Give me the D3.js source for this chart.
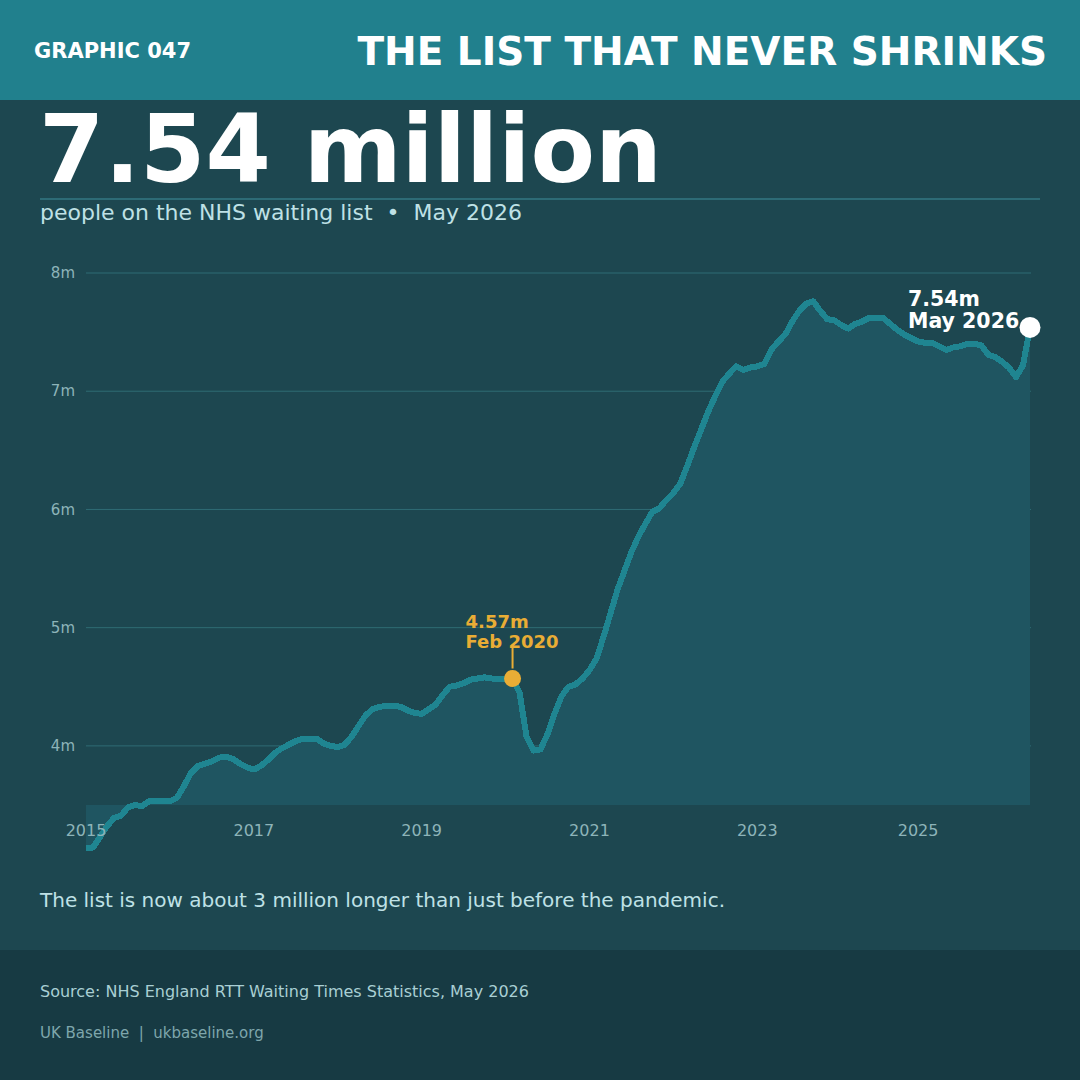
<!DOCTYPE html>
<html>
<head>
<meta charset="utf-8">
<script src="https://cdn.jsdelivr.net/npm/d3@7"></script>
<style>
  html, body { margin: 0; padding: 0; background: #1d4750; }
  svg { display: block; font-family: "DejaVu Sans", sans-serif; }
  svg text { white-space: pre; }
</style>
</head>
<body>
<svg id="chart" width="1080" height="1080"></svg>
<script>
// ---- data (millions of people on the waiting list, monthly) ----
const months = [
  "2015-01","2015-02","2015-03","2015-04","2015-05","2015-06","2015-07","2015-08","2015-09","2015-10","2015-11","2015-12",
  "2016-01","2016-02","2016-03","2016-04","2016-05","2016-06","2016-07","2016-08","2016-09","2016-10","2016-11","2016-12",
  "2017-01","2017-02","2017-03","2017-04","2017-05","2017-06","2017-07","2017-08","2017-09","2017-10","2017-11","2017-12",
  "2018-01","2018-02","2018-03","2018-04","2018-05","2018-06","2018-07","2018-08","2018-09","2018-10","2018-11","2018-12",
  "2019-01","2019-02","2019-03","2019-04","2019-05","2019-06","2019-07","2019-08","2019-09","2019-10","2019-11","2019-12",
  "2020-01","2020-02","2020-03","2020-04","2020-05","2020-06","2020-07","2020-08","2020-09","2020-10","2020-11","2020-12",
  "2021-01","2021-02","2021-03","2021-04","2021-05","2021-06","2021-07","2021-08","2021-09","2021-10","2021-11","2021-12",
  "2022-01","2022-02","2022-03","2022-04","2022-05","2022-06","2022-07","2022-08","2022-09","2022-10","2022-11","2022-12",
  "2023-01","2023-02","2023-03","2023-04","2023-05","2023-06","2023-07","2023-08","2023-09","2023-10","2023-11","2023-12",
  "2024-01","2024-02","2024-03","2024-04","2024-05","2024-06","2024-07","2024-08","2024-09","2024-11","2024-12",
  "2025-01","2025-02","2025-03","2025-04","2025-05","2025-06","2025-07","2025-08","2025-09","2025-10","2025-11","2025-12",
  "2026-01","2026-02","2026-03","2026-04","2026-05"
];
const waiting = [
  3.14,3.14,3.23,3.32,3.39,3.41,3.48,3.50,3.49,3.53,3.53,3.53,
  3.53,3.56,3.66,3.77,3.83,3.85,3.87,3.90,3.91,3.89,3.85,3.82,
  3.80,3.83,3.88,3.94,3.98,4.01,4.04,4.06,4.06,4.06,4.02,4.00,
  3.99,4.01,4.08,4.17,4.26,4.31,4.33,4.34,4.34,4.33,4.30,4.28,
  4.27,4.31,4.35,4.43,4.50,4.51,4.53,4.56,4.57,4.58,4.57,4.57,
  4.57,4.57,4.45,4.08,3.96,3.97,4.10,4.27,4.42,4.50,4.52,4.57,
  4.64,4.74,4.92,5.12,5.32,5.48,5.64,5.77,5.88,5.98,6.01,6.08,
  6.14,6.22,6.37,6.53,6.68,6.83,6.96,7.08,7.15,7.21,7.18,7.20,
  7.21,7.23,7.35,7.42,7.48,7.59,7.68,7.74,7.76,7.68,7.61,7.60,
  7.56,7.53,7.57,7.59,7.62,7.62,7.62,7.57,7.52,7.48,7.45,
  7.42,7.41,7.41,7.38,7.35,7.37,7.38,7.40,7.40,7.39,7.31,7.29,
  7.25,7.20,7.12,7.22,7.54
];
const yTicks = [4, 5, 6, 7, 8];
const yTickLabels = ["4m", "5m", "6m", "7m", "8m"];
const xTickMonths = ["2015-01","2017-01","2019-01","2021-01","2023-01","2025-01"];
const xTickLabels = ["2015","2017","2019","2021","2023","2025"];
const preMonth = "2020-02", preLabel = ["4.57m", "Feb 2020"];
const lastLabel = ["7.54m", "May 2026"];

const data = months.map((m, i) => ({ m, v: waiting[i] }));

// ---- layout ----
const W = 1080, H = 1080;
const svg = d3.select("#chart");
const C = {
  bg: "#1d4750", header: "#21808d", footer: "#173a43",
  grid: "#2f6c74", axis: "#8db4b9", area: "#1f5561", line: "#1f8591",
  gold: "#e9ad35", light: "#bfe1e6"
};

svg.append("rect").attr("width", W).attr("height", H).attr("fill", C.bg);
svg.append("rect").attr("width", W).attr("height", 100).attr("fill", C.header);
svg.append("rect").attr("y", 950).attr("width", W).attr("height", 130).attr("fill", C.footer);

svg.append("text").attr("x", 34).attr("y", 58)
  .attr("font-size", 21).attr("font-weight", "bold").attr("fill", "#ffffff")
  .text("GRAPHIC 047");
svg.append("text").attr("x", 1047).attr("y", 65).attr("text-anchor", "end")
  .attr("font-size", 39).attr("font-weight", "bold").attr("fill", "#ffffff")
  .text("THE LIST THAT NEVER SHRINKS");

svg.append("text").attr("x", 39).attr("y", 182)
  .attr("font-size", 94).attr("font-weight", "bold").attr("fill", "#ffffff")
  .text("7.54 million");
svg.append("line").attr("x1", 40).attr("x2", 1040).attr("y1", 199).attr("y2", 199)
  .attr("stroke", "#2d6b76").attr("stroke-width", 2);
svg.append("text").attr("x", 40).attr("y", 220)
  .attr("font-size", 22).attr("fill", C.light)
  .text("people on the NHS waiting list  \u2022  May 2026");

// ---- scales ----
const x = d3.scalePoint().domain(months).range([86, 1030]);
const y = d3.scaleLinear().domain([3.5, 8]).range([805, 273]);

// gridlines
const g = svg.append("g");
g.selectAll("line.grid").data(yTicks).join("line")
  .attr("x1", 86).attr("x2", 1031)
  .attr("y1", d => y(d)).attr("y2", d => y(d))
  .attr("stroke", C.grid).attr("stroke-width", 1);
g.selectAll("text.ylab").data(yTicks).join("text")
  .attr("x", 75).attr("y", d => y(d)).attr("dy", "0.35em")
  .attr("text-anchor", "end").attr("font-size", 15).attr("fill", C.axis)
  .text((d, i) => yTickLabels[i]);

// area + line
const area = d3.area().x(d => x(d.m)).y0(y(3.5)).y1(d => y(d.v));
svg.append("path").datum(data).attr("d", area).attr("fill", C.area);
const line = d3.line().x(d => x(d.m)).y(d => y(d.v));
svg.append("path").datum(data).attr("d", line)
  .attr("fill", "none").attr("stroke", C.line).attr("stroke-width", 6)
  .attr("stroke-linejoin", "round").attr("shape-rendering", "crispEdges");

// x axis labels
svg.selectAll("text.xlab").data(xTickMonths).join("text")
  .attr("x", d => x(d)).attr("y", 836).attr("text-anchor", "middle")
  .attr("font-size", 16).attr("fill", C.axis)
  .text((d, i) => xTickLabels[i]);

// pre-pandemic annotation
const pre = data.find(d => d.m === preMonth);
const px = x(pre.m), py = y(pre.v);
svg.append("line").attr("x1", px).attr("x2", px).attr("y1", py - 10).attr("y2", py - 34)
  .attr("stroke", C.gold).attr("stroke-width", 2);
svg.append("circle").attr("cx", px).attr("cy", py).attr("r", 8.5).attr("fill", C.gold);
svg.append("text").attr("x", px - 47).attr("y", py - 51)
  .attr("font-size", 18).attr("font-weight", "bold").attr("fill", C.gold)
  .selectAll("tspan").data(preLabel).join("tspan")
  .attr("x", px - 47).attr("dy", (d, i) => i ? 20 : 0).text(d => d);

// latest annotation
const last = data[data.length - 1];
const lx = x(last.m), ly = y(last.v);
svg.append("circle").attr("cx", lx).attr("cy", ly).attr("r", 10.5).attr("fill", "#ffffff");
svg.append("text").attr("x", lx - 122).attr("y", ly - 21)
  .attr("font-size", 20.5).attr("font-weight", "bold").attr("fill", "#ffffff")
  .selectAll("tspan").data(lastLabel).join("tspan")
  .attr("x", lx - 122).attr("dy", (d, i) => i ? 22 : 0).text(d => d);

// caption + footer
svg.append("text").attr("x", 40).attr("y", 907)
  .attr("font-size", 20).attr("fill", C.light)
  .text("The list is now about 3 million longer than just before the pandemic.");
svg.append("text").attr("x", 40).attr("y", 997)
  .attr("font-size", 16).attr("fill", "#a9cfd4")
  .text("Source: NHS England RTT Waiting Times Statistics, May 2026");
svg.append("text").attr("x", 40).attr("y", 1038)
  .attr("font-size", 15).attr("fill", "#7ea6ac")
  .text("UK Baseline  |  ukbaseline.org");
</script>
</body>
</html>
